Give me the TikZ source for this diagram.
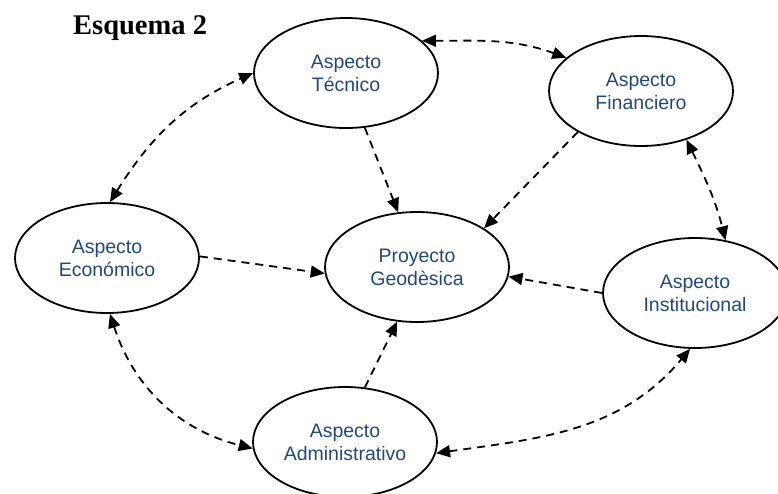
\documentclass[tikz,border=0pt]{standalone}
\usepackage{fontspec}
\setmainfont{Liberation Serif}
\newfontfamily\lblfont{Liberation Sans}
\usetikzlibrary{shapes.geometric,arrows.meta}
\definecolor{lblblue}{RGB}{31,73,125}
\tikzset{
  aspect/.style={ellipse, draw=black, line width=1.8pt, minimum width=184pt, minimum height=110pt,
    inner sep=0pt, align=center, text=lblblue,
    font=\lblfont\fontsize{19.5pt}{23pt}\selectfont},
  link/.style={line width=1.8pt, dash pattern=on 8pt off 6pt, -{Triangle[length=14pt,width=12pt]}},
  duallink/.style={line width=1.8pt, dash pattern=on 8pt off 6pt, {Triangle[length=14pt,width=12pt]}-{Triangle[length=14pt,width=12pt]}}
}
\begin{document}
\begin{tikzpicture}[x=1pt,y=-1pt]
\clip (0,0) rectangle (778,493);
\node[anchor=base west, inner sep=0pt, font=\bfseries\fontsize{28.5pt}{30pt}\selectfont] (title) at (73,34) {Esquema 2};
\node[aspect] (T) at (346,73) {Aspecto\\Técnico};
\node[aspect] (F) at (641,91) {Aspecto\\Financiero};
\node[aspect] (E) at (107,258) {Aspecto\\Económico};
\node[aspect] (P) at (417,267) {Proyecto\\Geodèsica};
\node[aspect] (I) at (695,293) {Aspecto\\Institucional};
\node[aspect] (A) at (345,442) {Aspecto\\Administrativo};
% straight arrows
\draw[link] (T.-71) -- (P.109);
\draw[link] (F.213) -- (P.30);
\draw[link] (E.1) -- (P.184);
\draw[link] (I.180) -- (P.-6);
\draw[link] (A.70) -- (P.250);
% double arrows
\draw[duallink] (T.23) to[out=0,in=160] (F.156);
\draw[duallink] (E.87) to[out=58,in=204] (T.180);
\draw[duallink] (F.-47) to[out=-64,in=104] (I.60);
\draw[duallink] (E.-87) to[out=-72,in=166] (A.184);
\draw[duallink] (A.-7) to[out=8,in=230] (I.-95);
\end{tikzpicture}
\end{document}
